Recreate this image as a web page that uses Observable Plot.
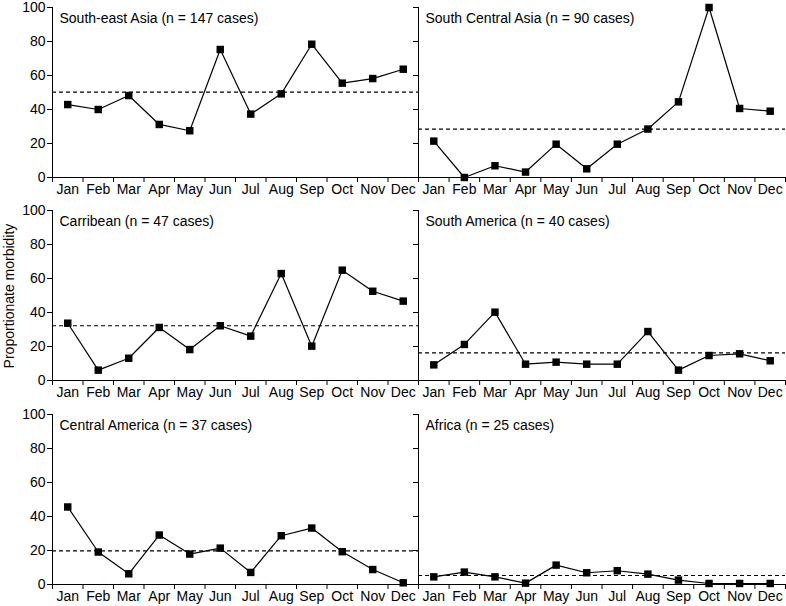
<!DOCTYPE html>
<html><head><meta charset="utf-8">
<script src="https://cdn.jsdelivr.net/npm/d3@7"></script>
<script src="https://cdn.jsdelivr.net/npm/@observablehq/plot@0.6"></script>
<style>
body{margin:0;background:#fff;}
#fig{position:relative;width:786px;height:606px;overflow:hidden;font-family:"Liberation Sans",Arial,sans-serif;}
.panel{position:absolute;}
#ylab{position:absolute;left:9px;top:296px;transform:translate(-50%,-50%) rotate(-90deg);font-size:14px;white-space:nowrap;color:#000;}
</style></head><body><div id="fig"><div id="ylab">Proportionate morbidity</div></div>
<script>
const months = ["Jan","Feb","Mar","Apr","May","Jun","Jul","Aug","Sep","Oct","Nov","Dec"];
const regions = ["South-east Asia","South Central Asia","Carribean","South America","Central America","Africa"];
const cases = [147, 90, 47, 40, 37, 25];
const southEastAsia    = [42.9, 40.0, 48.2, 31.2, 27.5, 75.3, 37.3, 49.2, 78.4, 55.5, 58.2, 63.7];
const southCentralAsia = [21.4, 0.0, 6.9, 3.2, 19.6, 5.1, 19.6, 28.5, 44.5, 100, 40.6, 39.0];
const carribean        = [33.7, 6.1, 13.1, 31.2, 18.2, 32.2, 26.1, 62.9, 20.2, 64.9, 52.5, 46.7];
const southAmerica     = [9.2, 21.2, 40.2, 9.6, 10.8, 9.6, 9.6, 28.8, 6.1, 14.7, 15.7, 11.6];
const centralAmerica   = [45.6, 19.1, 6.3, 29.1, 17.9, 21.4, 7.1, 28.7, 33.2, 19.3, 8.8, 1.0];
const africa           = [4.5, 7.3, 4.5, 0.8, 11.4, 6.9, 8.1, 6.1, 2.6, 0.6, 0.6, 0.6];
const means = [50.2, 28.5, 32.2, 16.3, 19.8, 5.3];
const yTicks = [0, 20, 40, 60, 80, 100];

const series = [southEastAsia, southCentralAsia, carribean, southAmerica, centralAmerica, africa];
const rowTops = [2, 205, 409];
const fig = document.getElementById("fig");

series.forEach((vals, i) => {
  const left = i % 2 === 0;
  const row = Math.floor(i / 2);
  const data = months.map((m, j) => ({x: j + 0.5, y: vals[j], month: m}));
  const chart = Plot.plot({
    width: left ? 420 : 386,
    height: 196,
    marginLeft: left ? 52 : 18,
    marginRight: left ? 2 : 1,
    marginTop: 5,
    marginBottom: 21,
    style: {background: "transparent", fontFamily: "'Liberation Sans', Arial, sans-serif", fontSize: "14px", color: "black", overflow: "visible"},
    x: {domain: [0, 12]},
    y: {domain: [0, 100]},
    marks: [
      Plot.axisY({ticks: yTicks, tickSize: 5, tickPadding: 2, tickFormat: left ? (d => d) : (() => ""), label: null}),
      Plot.axisX({ticks: d3.range(13), tickSize: 5, tickFormat: () => "", label: null}),
      Plot.axisX({ticks: d3.range(12).map(j => j + 0.5), tickSize: 0, tickPadding: 7, tickFormat: v => months[Math.floor(v)], label: null}),
      Plot.ruleX([0], {stroke: "black"}),
      Plot.ruleY([0], {stroke: "black"}),
      Plot.ruleY([means[i]], {stroke: "black", strokeDasharray: "4,3", strokeWidth: 1.2}),
      Plot.line(data, {x: "x", y: "y", stroke: "black", strokeWidth: 1.2}),
      Plot.dot(data, {x: "x", y: "y", symbol: "square", fill: "black", stroke: null, r: 4.2}),
      Plot.text([`${regions[i]} (n = ${cases[i]} cases)`], {frameAnchor: "top-left", dx: 7, dy: 6, lineAnchor: "top", textAnchor: "start", fill: "black"})
    ]
  });
  chart.classList.add("panel");
  chart.style.position = "absolute";
  chart.style.left = (left ? 0 : 400) + "px";
  chart.style.top = rowTops[row] + "px";
  fig.appendChild(chart);
});
</script></body></html>
